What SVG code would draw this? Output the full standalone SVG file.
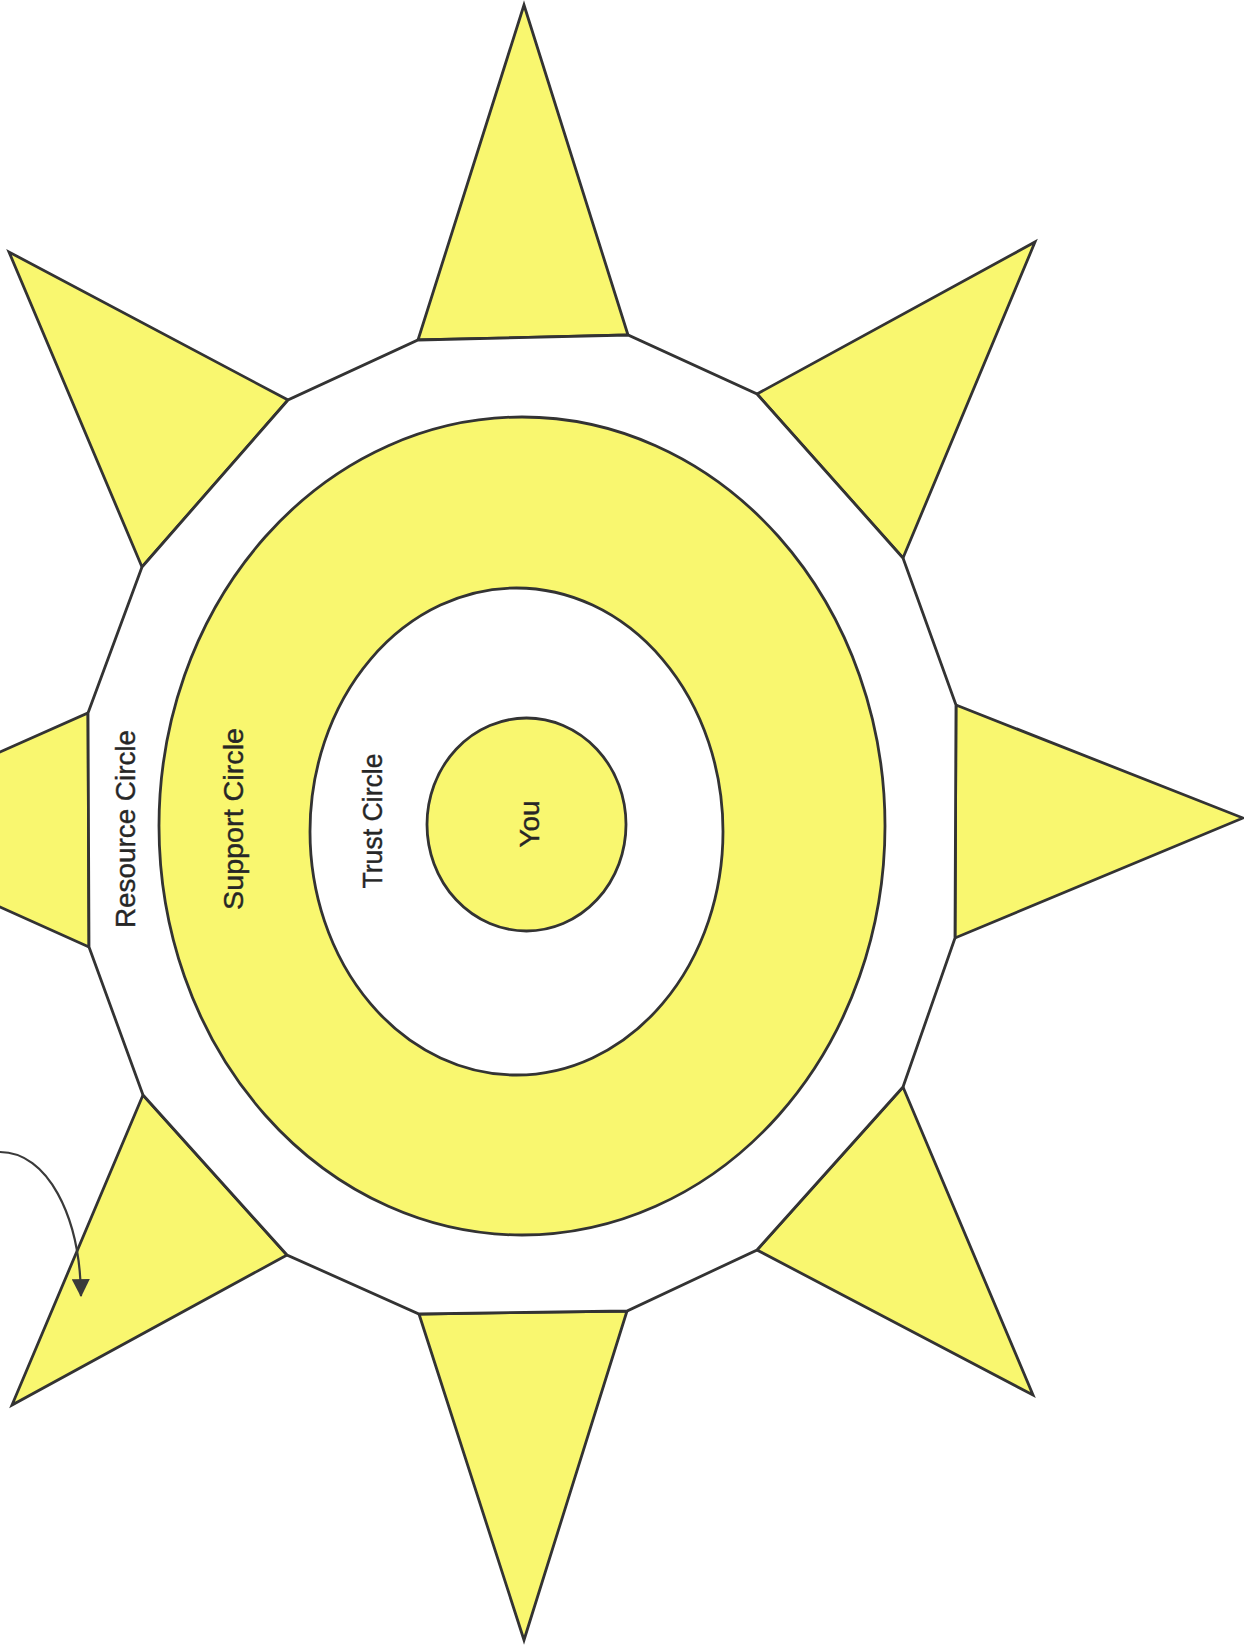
<svg xmlns="http://www.w3.org/2000/svg" width="1244" height="1648" viewBox="0 0 1244 1648">
  <style>
    .ray { fill: #f9f76f; stroke: #333; stroke-width: 2.8; stroke-linejoin: miter; }
    .ring { stroke: #333; stroke-width: 2.8; }
    .yellow { fill: #f9f76f; }
    .white { fill: #ffffff; }
    .lbl { font-family: "Liberation Sans", Arial, sans-serif; font-size: 28px; fill: #262626; text-anchor: middle; stroke: #262626; stroke-width: 0.4; }
    .conn { fill: none; stroke: #3a3a3a; stroke-width: 2.2; }
  </style>
  <defs>
    <marker id="tri" markerWidth="18" markerHeight="18" refX="15" refY="8" orient="auto" markerUnits="userSpaceOnUse" viewBox="0 0 16 16">
      <path d="M0,0 L16,8 L0,16 Z" fill="#3a3a3a"/>
    </marker>
  </defs>
  <rect width="1244" height="1648" fill="#ffffff"/>

  <g id="rays">
    <polygon id="ray-top" class="ray" points="418,340 524,5 628,335"/>
    <polygon id="ray-top-right" class="ray" points="757,394 1035,242 903,558"/>
    <polygon id="ray-right" class="ray" points="956,705 1243,818 955,938"/>
    <polygon id="ray-bottom-right" class="ray" points="903,1087 1033,1395 757,1250"/>
    <polygon id="ray-bottom" class="ray" points="627,1311 524,1640 419,1314"/>
    <polygon id="ray-bottom-left" class="ray" points="287,1255 12,1405 143,1095"/>
    <polygon id="ray-left" class="ray" points="89,947 -174,829 88,713"/>
    <polygon id="ray-top-left" class="ray" points="142,567 9,252 288,400"/>
  </g>

  <g id="resource-circle">
    <polygon class="ring white" points="418,340 628,335 757,394 903,558 956,705 955,938 903,1087 757,1250 627,1311 419,1314 287,1255 143,1095 89,947 88,713 142,567 288,400"/>
    <text class="lbl" transform="translate(135,829) rotate(-90)" textLength="198" lengthAdjust="spacingAndGlyphs">Resource Circle</text>
  </g>

  <g id="support-circle">
    <ellipse class="ring yellow" cx="522" cy="826" rx="363" ry="409"/>
    <text class="lbl" transform="translate(243,819) rotate(-90)" textLength="182" lengthAdjust="spacingAndGlyphs">Support Circle</text>
  </g>

  <g id="trust-circle">
    <ellipse class="ring white" cx="516.5" cy="831.5" rx="206.5" ry="243.5"/>
    <text class="lbl" transform="translate(382,821) rotate(-90)" textLength="135" lengthAdjust="spacingAndGlyphs">Trust Circle</text>
  </g>

  <g id="you">
    <ellipse class="ring yellow" cx="526.5" cy="824.5" rx="99.5" ry="106.5"/>
    <text class="lbl" transform="translate(539,824) rotate(-90)" textLength="47" lengthAdjust="spacingAndGlyphs">You</text>
  </g>

  <g id="connectors">
    <path class="conn" d="M0,1152 C47,1152 80,1215 81,1296" marker-end="url(#tri)"/>
  </g>
</svg>
